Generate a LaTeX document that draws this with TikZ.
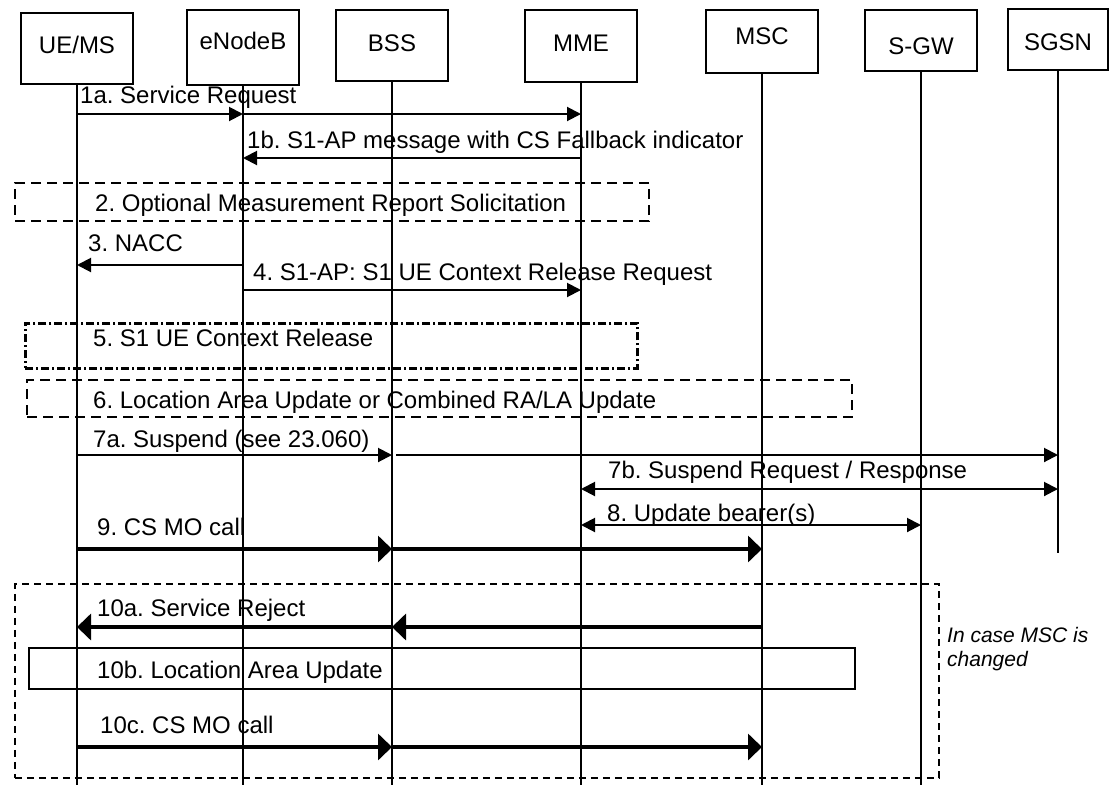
\documentclass[tikz,border=0pt]{standalone}
\usepackage{fontspec}
\setmainfont{Liberation Sans}
\usetikzlibrary{arrows.meta}
\frenchspacing

\begin{document}
\begin{tikzpicture}[x=1pt, y=-1pt]
  \tikzset{
      > = {Triangle[length=14pt, width=14pt]},
      every node/.append style = {
          font = \fontsize{24}{28}\selectfont
      },
      lifeline/.style = {
          line width = 2pt
      },
      headbox/.style = {
          draw,
          line width = 2pt,
          minimum width = 112pt,
          inner sep = 0pt
      },
      msgtext/.style = {
          anchor = base west,
          inner sep = 0pt
      },
      msg/.style = {
          line width = 2pt,
          arrows = ->
      },
      bigmsg/.style = {
          line width = 4pt,
          arrows = {-Triangle[length=14pt, width=26pt]}
      },
      duplex/.style = {
          line width = 2pt,
          arrows = <->
      },
      optbox/.style = {
          draw,
          line width = 2pt,
          dash pattern = on 10pt off 6pt,
          anchor = north west,
          inner sep = 0pt
      },
      dotbox/.style = {
          draw,
          line width = 2.5pt,
          dash pattern = on 8pt off 3pt on 2pt off 3pt,
          anchor = north west,
          inner sep = 0pt
      },
      groupbox/.style = {
          draw,
          line width = 1.5pt,
          dash pattern = on 7pt off 5pt,
          anchor = north west,
          inner sep = 0pt
      },
      procbox/.style = {
          draw,
          line width = 2pt,
          anchor = north west,
          inner sep = 0pt
      }
  }
  \useasboundingbox (0,0) rectangle (1109,785);

  % entities
  \node[headbox, minimum height=71pt] (ue) at (77,48.5) {};
  \node[headbox, minimum height=75pt] (enb) at (243,47.5) {};
  \node[headbox, minimum height=71pt] (bss) at (392,45.5) {};
  \node[headbox, minimum height=72pt] (mme) at (581,46) {};
  \node[headbox, minimum height=63pt] (msc) at (762,41.5) {};
  \node[headbox, minimum height=61pt] (sgw) at (921,40.5) {};
  \node[headbox, minimum height=61pt, minimum width=100pt] (sgsn) at (1058,39.5) {};
  \node (uetxt) at (77,45) {UE/MS};
  \node (enbtxt) at (243,41) {eNodeB};
  \node (bsstxt) at (392,43.5) {BSS};
  \node (mmetxt) at (581,43) {MME};
  \node (msctxt) at (762,36) {MSC};
  \node (sgwtxt) at (921,46) {S-GW};
  \node (sgsntxt) at (1058,42) {SGSN};

  % lifelines
  \coordinate (bottom) at (0,785);
  \coordinate (sgsnend) at (0,553);
  \draw[lifeline] (ue.south) -- (ue |- bottom);
  \draw[lifeline] (enb.south) -- (enb |- bottom);
  \draw[lifeline] (bss.south) -- (bss |- bottom);
  \draw[lifeline] (mme.south) -- (mme |- bottom);
  \draw[lifeline] (msc.south) -- (msc |- bottom);
  \draw[lifeline] (sgw.south) -- (sgw |- bottom);
  \draw[lifeline] (sgsn.south) -- (sgsn |- sgsnend);

  % message rows
  \coordinate (r1a) at (0,114);
  \coordinate (r1b) at (0,158);
  \coordinate (r3) at (0,265);
  \coordinate (r4) at (0,290);
  \coordinate (r7a) at (0,455);
  \coordinate (r7b) at (0,489);
  \coordinate (r8) at (0,525);
  \coordinate (r9) at (0,549);
  \coordinate (r10a) at (0,627);
  \coordinate (r10c) at (0,747);

  % 1a, 1b
  \node[msgtext] (t1a) at (80,103) {1a. Service Request};
  \path[msg] (ue |- r1a) edge (enb |- r1a);
  \path[msg] (enb |- r1a) edge (mme |- r1a);
  \node[msgtext] (t1b) at (247,148) {1b. S1-AP message with CS Fallback indicator};
  \path[msg] (mme |- r1b) edge (enb |- r1b);

  % 2
  \node[optbox, minimum width=634pt, minimum height=38pt] (s2) at (14,182) {};
  \node[msgtext] (t2) at (95,211) {2. Optional Measurement Report Solicitation};

  % 3, 4
  \node[msgtext] (t3) at (88,251) {3. NACC};
  \path[msg] (enb |- r3) edge (ue |- r3);
  \node[msgtext] (t4) at (253,280) {4. S1-AP: S1 UE Context Release Request};
  \path[msg] (enb |- r4) edge (mme |- r4);

  % 5, 6
  \node[dotbox, minimum width=612pt, minimum height=45pt] (s5) at (24,322) {};
  \node[msgtext] (t5) at (93,346) {5. S1 UE Context Release};
  \node[optbox, minimum width=825pt, minimum height=37pt] (s6) at (26,379) {};
  \node[msgtext] (t6) at (93,408) {6. Location Area Update or Combined RA/LA Update};

  % 7a, 7b, 8
  \node[msgtext] (t7a) at (93,447) {7a. Suspend (see 23.060)};
  \path[msg] (ue |- r7a) edge (bss |- r7a);
  \path[msg, shorten <=4pt] (bss |- r7a) edge (sgsn |- r7a);
  \node[msgtext] (t7b) at (608,478) {7b. Suspend Request / Response};
  \path[duplex] (mme |- r7b) edge (sgsn |- r7b);
  \node[msgtext] (t8) at (607,521) {8. Update bearer(s)};
  \path[duplex] (mme |- r8) edge (sgw |- r8);

  % 9
  \node[msgtext] (t9) at (97,535) {9. CS MO call};
  \path[bigmsg] (ue |- r9) edge (bss |- r9);
  \path[bigmsg] (bss |- r9) edge (msc |- r9);

  % 10
  \node[groupbox, minimum width=924pt, minimum height=194pt] (s10) at (14,583) {};
  \node[msgtext] (t10a) at (97,616) {10a. Service Reject};
  \path[bigmsg] (msc |- r10a) edge (bss |- r10a);
  \path[bigmsg] (bss |- r10a) edge (ue |- r10a);
  \node[procbox, minimum width=826pt, minimum height=41pt] (s10b) at (28,647) {};
  \node[msgtext] (t10b) at (97,678) {10b. Location Area Update};
  \node[msgtext] (t10c) at (100,733) {10c. CS MO call};
  \path[bigmsg] (ue |- r10c) edge (bss |- r10c);
  \path[bigmsg] (bss |- r10c) edge (msc |- r10c);
  \node[anchor=north west, inner sep=0pt, align=left,
        font=\fontsize{21}{24}\selectfont\itshape] (note) at (947,627)
       {In case MSC is\\changed};

\end{tikzpicture}
\end{document}
